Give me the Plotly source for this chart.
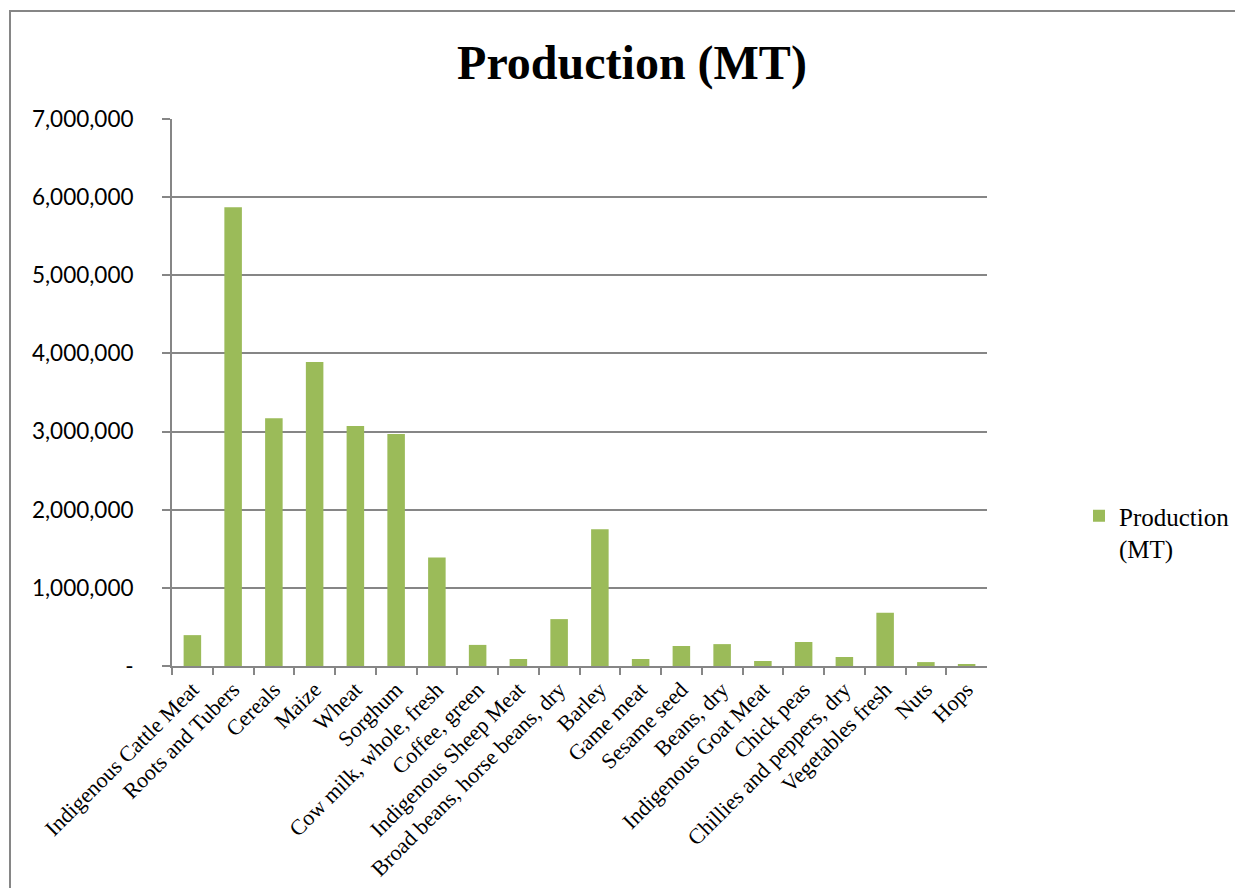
import plotly.graph_objects as go

categories = ["Indigenous Cattle Meat", "Roots and Tubers", "Cereals", "Maize", "Wheat",
              "Sorghum", "Cow milk, whole, fresh", "Coffee, green", "Indigenous Sheep Meat",
              "Broad beans, horse beans, dry", "Barley", "Game meat", "Sesame seed",
              "Beans, dry", "Indigenous Goat Meat", "Chick peas", "Chillies and peppers, dry",
              "Vegetables fresh", "Nuts", "Hops"]
production = [395000, 5870000, 3170000, 3890000, 3070000, 2970000, 1390000, 270000, 90000,
              600000, 1750000, 90000, 256000, 280000, 64000, 307000, 115000, 680000, 50000, 25000]

y_tickvals = [0, 1000000, 2000000, 3000000, 4000000, 5000000, 6000000, 7000000]
y_ticktext = ["-", "1,000,000", "2,000,000", "3,000,000", "4,000,000", "5,000,000", "6,000,000", "7,000,000"]

# page body has an 8px margin; figure placed at (8, 8)
OFF = 8
W, H = 1243 - OFF, 888 - OFF


def px(x):
    return (x - OFF) / W


def py(y):
    return 1 - (y - OFF) / H


fig = go.Figure()
fig.add_trace(go.Bar(x=categories, y=production, name="Production<br>(MT)",
                     marker=dict(color="#9BBB59", line=dict(width=0))))

fig.update_layout(
    width=W, height=H,
    margin=dict(l=0, r=0, t=0, b=0, pad=0, autoexpand=False),
    paper_bgcolor="white", plot_bgcolor="white",
    bargap=0.57,
    title=dict(text="<b>Production (MT)</b>", x=px(632), xanchor="center",
               y=py(62), yanchor="middle",
               font=dict(family="Liberation Serif", size=48, color="black")),
    xaxis=dict(domain=[px(172), px(987)], tickangle=-45, automargin=False,
               tickfont=dict(family="Liberation Serif", size=22, color="black"),
               showline=True, linecolor="#868686", linewidth=2,
               ticks="outside", tickson="boundaries", ticklen=7, tickcolor="#868686", tickwidth=2,
               showgrid=False),
    yaxis=dict(domain=[py(666), py(119)], range=[0, 7000000], automargin=False,
               tickvals=y_tickvals, ticktext=y_ticktext,
               tickfont=dict(family="Lato", size=22.5, color="black"),
               showgrid=True, gridcolor="#868686", gridwidth=1.5,
               showline=True, linecolor="#868686", linewidth=2,
               ticks="outside", ticklen=8, tickcolor="#868686", tickwidth=2,
               ticklabelstandoff=24, zeroline=False),
    showlegend=True,
    legend=dict(x=px(1079), y=py(532), xanchor="left", yanchor="middle", valign="top",
                font=dict(family="Liberation Serif", size=25, color="black"),
                bgcolor="rgba(0,0,0,0)"),
    shapes=[dict(type="rect", xref="paper", yref="paper",
                 x0=px(10), x1=1.02, y0=-0.02, y1=py(11),
                 line=dict(color="#868686", width=2), fillcolor="rgba(0,0,0,0)")],
)

fig.write_html("out.html")
